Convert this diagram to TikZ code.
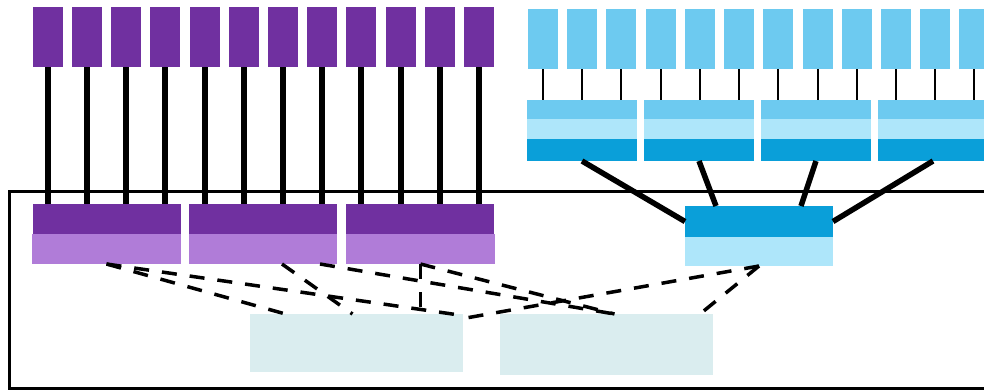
\documentclass[tikz,border=0pt]{standalone}
\definecolor{purpD}{HTML}{7030A0}
\definecolor{purpL}{HTML}{B07CD8}
\definecolor{blueM}{HTML}{6DCAF0}
\definecolor{blueL}{HTML}{AEE6FA}
\definecolor{blueD}{HTML}{0A9FD9}
\definecolor{tealL}{HTML}{DAEDEF}
% filled block given by its corners (x1,y1) (x2,y2)
\newcommand\blk[6]{\node[blk, fill=#6, minimum width={(#4-(#2))*1pt}, minimum height={(#5-(#3))*1pt}] (#1) at ({((#2)+(#4))/2},{((#3)+(#5))/2}) {};}
\begin{document}
\begin{tikzpicture}[x=1pt, y=-1pt,
  blk/.style={draw=none, inner sep=0pt, outer sep=0pt},
  thickwire/.style={line width=6pt},
  thinwire/.style={line width=2.5pt},
  uplink/.style={line width=5.5pt},
  frameline/.style={line width=3pt},
  dashwire/.style={line width=3.5pt, dash pattern=on 15pt off 13pt}]
\useasboundingbox (0,0) rectangle (984,389);
\clip (0,0) rectangle (984,389);

% enclosing frame
\draw[frameline] (9,191) rectangle (1010,388);

% purple group: bottom two-band blocks
\blk{pd1}{33}{204}{181}{234}{purpD}
\blk{pl1}{32}{234}{181}{264}{purpL}
\blk{pd2}{189}{204}{337}{234}{purpD}
\blk{pl2}{189}{234}{337}{264}{purpL}
\blk{pd3}{346}{204}{494}{234}{purpD}
\blk{pl3}{346}{234}{495}{264}{purpL}

% purple top blocks and their wires
\foreach \x [count=\i] in {33,72,111,150,190,229,268,307,346,386,425,464} {
  \blk{pt\i}{\x}{7}{\x+30}{67}{purpD}
  \pgfmathtruncatemacro\j{int((\i-1)/4)+1}
  \draw[thickwire] (pt\i.south) -- (pt\i.south |- pd\j.north);
}

% blue three-band blocks
\foreach \x [count=\k] in {527,644,761,878} {
  \blk{bt\k}{\x}{100}{\x+110}{119}{blueM}
  \blk{bm\k}{\x}{119}{\x+110}{139}{blueL}
  \blk{bd\k}{\x}{139}{\x+110}{161}{blueD}
}

% blue top blocks and their wires
\foreach \x [count=\i] in {528,567,606,646,685,724,763,803,842,881,920,959} {
  \blk{ct\i}{\x}{9}{\x+30}{69}{blueM}
  \pgfmathtruncatemacro\j{int((\i-1)/3)+1}
  \draw[thinwire] (ct\i.south) -- (ct\i.south |- bt\j.north);
}

% blue lower block
\blk{ld}{685}{206}{833}{237}{blueD}
\blk{ll}{685}{237}{833}{266}{blueL}

\draw[uplink] (bd1.south) -- (ld.west);
\draw[uplink] (bd2.south) -- ([xshift=-43pt]ld.north);
\draw[uplink] (bd3.south) -- ([xshift=42pt]ld.north);
\draw[uplink] (bd4.south) -- (ld.east);

% pale lower blocks
\blk{t1}{250}{314}{463}{372}{tealL}
\blk{t2}{500}{314}{713}{375}{tealL}

% dashed links
\draw[dashwire] (pl1.south) -- ([xshift=-71pt]t1.north);
\draw[dashwire] (pl1.south) -- ([xshift=3pt,yshift=-2pt]t1.north east);
\draw[dashwire] ([xshift=19pt]pl2.south) -- ([xshift=-4pt]t1.north);
\draw[dashwire] ([xshift=57pt]pl2.south) -- ([xshift=8pt]t2.north);
\draw[dashwire] (pl3.south) -- ([xshift=8pt]t2.north);
\draw[dashwire] (pl3.south) -- (pl3.south |- t1.north);
\draw[dashwire] (ll.south) -- ([xshift=3pt,yshift=-4pt]t1.north east);
\draw[dashwire] (ll.south) -- ([xshift=-13pt]t2.north east);
\end{tikzpicture}
\end{document}
